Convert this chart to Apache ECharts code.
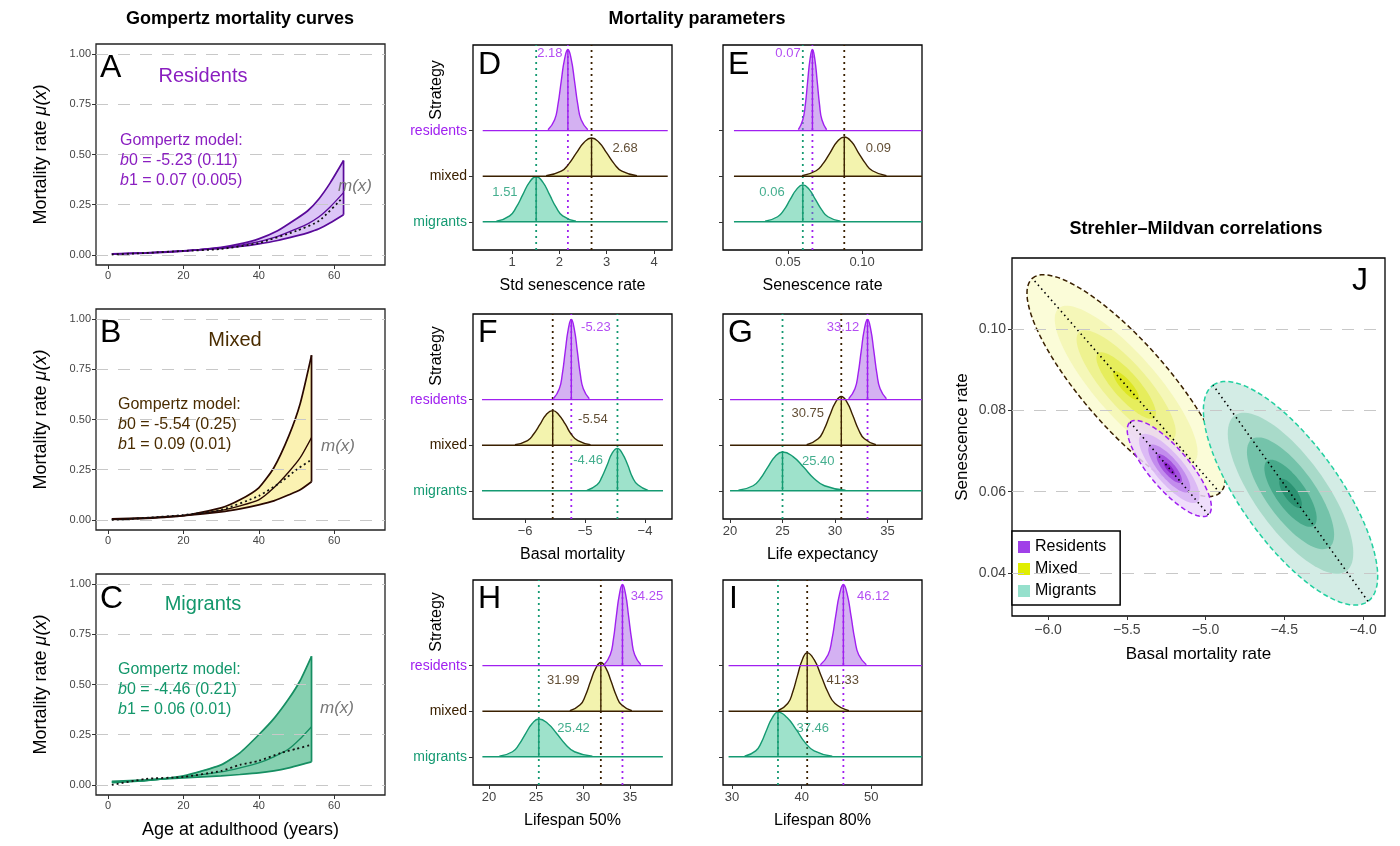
<!DOCTYPE html>
<html>
<head>
<meta charset="utf-8">
<script src="https://cdn.jsdelivr.net/npm/echarts@6/dist/echarts.min.js"></script>
<style>
  html, body { margin: 0; padding: 0; background: #fff; }
  #main { width: 1400px; height: 846px; }
</style>
</head>
<body>
<div id="main"></div>
<script>
// ---- Gompertz curves (A-C) ----
var ageA = [1, 10, 20, 30, 35, 40, 45, 50, 53, 56, 59, 62.5];
var resUpper = [0.004, 0.009, 0.019, 0.038, 0.055, 0.08, 0.12, 0.18, 0.22, 0.28, 0.36, 0.47];
var resMean = [0.005, 0.01, 0.02, 0.036, 0.048, 0.066, 0.092, 0.13, 0.155, 0.19, 0.24, 0.31];
var resLower = [0.006, 0.011, 0.02, 0.033, 0.042, 0.055, 0.072, 0.095, 0.11, 0.13, 0.16, 0.20];
var ageAmx = [1, 10, 20, 30, 40, 50, 56, 62];
var resMx = [0.002, 0.01, 0.02, 0.03, 0.06, 0.12, 0.17, 0.28];

var ageB = [1, 10, 20, 30, 35, 40, 44, 48, 51, 54];
var mixUpper = [0.003, 0.008, 0.022, 0.06, 0.1, 0.16, 0.26, 0.42, 0.58, 0.82];
var mixMean = [0.004, 0.01, 0.022, 0.048, 0.07, 0.1, 0.16, 0.24, 0.31, 0.41];
var mixLower = [0.005, 0.011, 0.022, 0.04, 0.055, 0.075, 0.095, 0.125, 0.15, 0.19];
var ageBmx = [1, 10, 20, 30, 40, 46, 50, 54];
var mixMx = [0.0, 0.01, 0.025, 0.05, 0.12, 0.19, 0.25, 0.30];

var ageC = [1, 10, 20, 30, 35, 40, 44, 48, 51, 54];
var migUpper = [0.012, 0.022, 0.045, 0.1, 0.16, 0.25, 0.33, 0.43, 0.52, 0.64];
var migMean = [0.014, 0.022, 0.04, 0.065, 0.085, 0.11, 0.14, 0.18, 0.23, 0.29];
var migLower = [0.018, 0.025, 0.035, 0.045, 0.052, 0.06, 0.07, 0.085, 0.1, 0.115];
var ageCmx = [1, 10, 20, 30, 35, 40, 46, 50, 54];
var migMx = [0.0, 0.03, 0.04, 0.07, 0.1, 0.12, 0.16, 0.18, 0.2];

var rateTicks = [0, 0.25, 0.5, 0.75, 1];
var ageTicks = [0, 20, 40, 60];

// ---- posterior densities (D-I), [value, height] ----
var stdRes = [[1.76,.02],[1.90,.24],[1.97,.57],[2.04,1.09],[2.11,1.57],[2.18,1.78],[2.25,1.57],[2.32,1.09],[2.39,.57],[2.46,.24],[2.60,.02]];
var stdMix = [[1.72,.01],[2.04,.11],[2.20,.27],[2.36,.51],[2.52,.74],[2.68,.84],[2.84,.74],[3.00,.51],[3.16,.27],[3.32,.11],[3.64,.01]];
var stdMig = [[.67,.01],[.95,.13],[1.09,.32],[1.23,.60],[1.37,.87],[1.51,.99],[1.65,.87],[1.79,.60],[1.93,.32],[2.07,.13],[2.35,.01]];
var senRes = [[.057,.02],[.060,.24],[.0617,.57],[.0633,1.09],[.0649,1.57],[.0665,1.78],[.0681,1.57],[.0697,1.09],[.0713,.57],[.0729,.24],[.0761,.02]];
var senMix = [[.0595,.01],[.069,.12],[.0738,.28],[.0785,.52],[.0833,.76],[.088,.86],[.0928,.76],[.0975,.52],[.1023,.28],[.107,.12],[.1165,.01]];
var senMig = [[.0345,.01],[.043,.11],[.0473,.26],[.0515,.49],[.0558,.71],[.060,.81],[.0643,.71],[.0685,.49],[.0728,.26],[.077,.11],[.0855,.01]];
var basRes = [[-5.53,.02],[-5.43,.24],[-5.38,.56],[-5.33,1.07],[-5.28,1.55],[-5.23,1.76],[-5.18,1.55],[-5.13,1.07],[-5.08,.56],[-5.03,.24],[-4.93,.02]];
var basMix = [[-6.17,.01],[-5.96,.10],[-5.86,.24],[-5.75,.46],[-5.65,.67],[-5.54,.76],[-5.44,.67],[-5.33,.46],[-5.23,.24],[-5.12,.10],[-4.91,.01]];
var basMig = [[-4.97,.01],[-4.80,.13],[-4.72,.30],[-4.63,.57],[-4.55,.82],[-4.46,.93],[-4.38,.82],[-4.29,.57],[-4.21,.30],[-4.12,.13],[-3.95,.01]];
var lifRes = [[31.3,.02],[31.9,.24],[32.2,.56],[32.5,1.07],[32.8,1.55],[33.1,1.76],[33.4,1.55],[33.7,1.07],[34.0,.56],[34.3,.24],[34.9,.02]];
var lifMix = [[27.3,.01],[28.4,.14],[28.95,.34],[29.5,.65],[30.05,.94],[30.6,1.07],[31.15,.94],[31.7,.65],[32.25,.34],[32.8,.14],[33.9,.01]];
var lifMig = [[20.8,.01],[22.2,.11],[22.9,.27],[23.6,.52],[24.3,.75],[25.0,.85],[26.0,.75],[27.0,.52],[28.0,.27],[29.0,.11],[31.0,.01]];
var l50Res = [[32.25,.02],[32.9,.24],[33.23,.57],[33.55,1.09],[33.88,1.57],[34.2,1.78],[34.53,1.57],[34.85,1.09],[35.18,.57],[35.5,.24],[36.15,.02]];
var l50Mix = [[28.6,.01],[29.7,.14],[30.25,.34],[30.8,.65],[31.35,.94],[31.9,1.07],[32.45,.94],[33.0,.65],[33.55,.34],[34.1,.14],[35.2,.01]];
var l50Mig = [[21.1,.01],[22.5,.11],[23.2,.27],[23.9,.51],[24.6,.73],[25.3,.83],[26.25,.73],[27.2,.51],[28.15,.27],[29.1,.11],[31.0,.01]];
var l80Res = [[42.7,.02],[43.8,.24],[44.35,.57],[44.9,1.09],[45.45,1.57],[46.0,1.78],[46.55,1.57],[47.1,1.09],[47.65,.57],[48.2,.24],[49.3,.02]];
var l80Mix = [[36.6,.01],[38.0,.17],[38.7,.41],[39.4,.78],[40.1,1.13],[40.8,1.28],[41.8,1.13],[42.8,.78],[43.8,.41],[44.8,.17],[46.8,.01]];
var l80Mig = [[31.8,.01],[33.4,.13],[34.2,.31],[35.0,.60],[35.8,.86],[36.6,.98],[37.9,.86],[39.2,.60],[40.5,.31],[41.8,.13],[44.4,.01]];

// value labels [x, y, text]
var stdLabels = [[1.80, 3.69, '2.18'], [3.39, 1.6, '2.68'], [0.85, 0.64, '1.51']];
var senLabels = [[0.05, 3.69, '0.07'], [0.111, 1.6, '0.09'], [0.0392, 0.64, '0.06']];
var basLabels = [[-4.82, 3.59, '-5.23'], [-4.87, 1.57, '-5.54'], [-4.95, 0.67, '-4.46']];
var lifLabels = [[30.76, 3.59, '33.12'], [27.4, 1.7, '30.75'], [28.4, 0.65, '25.40']];
var l50Labels = [[36.8, 3.52, '34.25'], [27.9, 1.67, '31.99'], [29.0, 0.63, '25.42']];
var l80Labels = [[50.3, 3.52, '46.12'], [45.9, 1.67, '41.33'], [41.6, 0.63, '37.46']];

var strategies = ['migrants', 'mixed', 'residents'];

// ---- Strehler-Mildvan ellipses (J) ----
var ellMixed = { center: [-5.504, 0.0861], end: [-6.10, 0.1125], ratio: 0.3 };
var ellMigrants = { center: [-4.46, 0.0596], end: [-4.952, 0.0862], ratio: 0.37 };
var ellResidents = { center: [-5.23, 0.0657], end: [-5.479, 0.0771], ratio: 0.33 };
var levelScales = [1, 0.72, 0.5, 0.3, 0.13];
var basalTicks = [-6, -5.5, -5, -4.5, -4];
var senTicksJ = [0.04, 0.06, 0.08, 0.10];

var C = {
  res: '#a020f0', resFill: 'rgba(170,100,230,0.5)',
  mix: '#3a2000', mixFill: 'rgba(238,238,140,0.7)',
  mig: '#159a72', migFill: 'rgba(40,190,140,0.45)'
};
var FONT = 'Liberation Sans, Arial, sans-serif';

var chart = echarts.init(document.getElementById('main'));
var grids = [], xAxes = [], yAxes = [], series = [];

function addGrid(g, x, y) {
  grids.push(Object.assign({ show: true, borderColor: '#000', borderWidth: 1.3, containLabel: false }, g));
  var gi = grids.length - 1;
  xAxes.push(Object.assign({ gridIndex: gi, type: 'value', axisLine: { show: false, onZero: false }, splitLine: { show: false } }, x));
  yAxes.push(Object.assign({ gridIndex: gi, type: 'value', axisLine: { show: false, onZero: false }, splitLine: { show: false } }, y));
  return gi;
}

function gridLines(gi, vals) {
  series.push({
    type: 'line', xAxisIndex: gi, yAxisIndex: gi, data: [], silent: true, z: 1,
    markLine: {
      silent: true, symbol: 'none', label: { show: false }, animation: false,
      lineStyle: { color: '#c8c8c8', type: [12, 10], width: 1.2 },
      data: vals.map(function (v) { return { yAxis: v }; })
    }
  });
}

function zip(xs, ys) { return xs.map(function (x, i) { return [x, ys[i]]; }); }

// ---- left column ----
var leftPanels = [
  { top: 44, ages: ageA, up: resUpper, mean: resMean, lo: resLower, mxAge: ageAmx, mx: resMx, line: '#5a0a9a', fill: '#dcc6f7', xname: '' },
  { top: 309, ages: ageB, up: mixUpper, mean: mixMean, lo: mixLower, mxAge: ageBmx, mx: mixMx, line: '#2a0800', fill: '#fbf2b2', xname: '' },
  { top: 574, ages: ageC, up: migUpper, mean: migMean, lo: migLower, mxAge: ageCmx, mx: migMx, line: '#168e62', fill: '#86d0b0', xname: 'Age at adulthood (years)' }
];
leftPanels.forEach(function (p) {
  var gi = addGrid({ left: 96, top: p.top, width: 289, height: 221, borderColor: '#222' },
    { min: -3.2, max: 73.5, name: p.xname, nameLocation: 'middle', nameGap: 26,
      nameTextStyle: { fontSize: 18, color: '#000', fontFamily: FONT },
      axisTick: { customValues: ageTicks, length: 4, lineStyle: { color: '#333' } },
      axisLabel: { customValues: ageTicks, fontSize: 11, color: '#444', margin: 5, fontFamily: FONT } },
    { min: -0.05, max: 1.05, name: '{a|Mortality rate }{i|μ(x)}', nameLocation: 'middle', nameGap: 46,
      nameTextStyle: { fontSize: 17, color: '#000', fontFamily: FONT,
        rich: { a: { fontSize: 18, fontFamily: FONT }, i: { fontSize: 18, fontStyle: 'italic', fontFamily: FONT } } },
      axisTick: { customValues: rateTicks, length: 4, lineStyle: { color: '#333' } },
      axisLabel: { customValues: rateTicks, fontSize: 11, color: '#444', margin: 5, fontFamily: FONT,
        formatter: function (v) { return v.toFixed(2); } } });
  gridLines(gi, rateTicks);
  var n = p.ages.length - 1;
  // fill between bounds
  series.push({
    type: 'custom', xAxisIndex: gi, yAxisIndex: gi, data: [[0, 0]], z: 3, silent: true,
    renderItem: function (params, api) {
      var pts = [];
      for (var i = 0; i <= n; i++) pts.push(api.coord([p.ages[i], p.up[i]]));
      for (var j = n; j >= 0; j--) pts.push(api.coord([p.ages[j], p.lo[j]]));
      return { type: 'polygon', shape: { points: pts }, style: { fill: p.fill } };
    }
  });
  [p.up, p.lo, p.mean].forEach(function (ys, k) {
    series.push({ type: 'line', xAxisIndex: gi, yAxisIndex: gi, data: zip(p.ages, ys), smooth: 0.2,
      symbol: 'none', lineStyle: { color: p.line, width: k < 2 ? 1.7 : 1.3 }, z: 4, silent: true });
  });
  series.push({ type: 'line', xAxisIndex: gi, yAxisIndex: gi, data: [[p.ages[n], p.lo[n]], [p.ages[n], p.up[n]]],
    symbol: 'none', lineStyle: { color: p.line, width: 1.7 }, z: 4, silent: true });
  series.push({ type: 'line', xAxisIndex: gi, yAxisIndex: gi, data: zip(p.mxAge, p.mx), smooth: 0.2,
    symbol: 'none', lineStyle: { color: '#111', width: 1.8, type: [2, 3] }, z: 5, silent: true });
});

// ---- middle column ----
var midPanels = [
  { left: 473, top: 45, min: 0.175, max: 4.38, base: [0.38, 4.29], ticks: [1, 2, 3, 4], dec: 0, name: 'Std senescence rate', d: [stdMig, stdMix, stdRes], lab: stdLabels, names: true },
  { left: 723, top: 45, min: 0.0061, max: 0.1405, base: [0.0135, 0.1405], ticks: [0.05, 0.10], dec: 2, name: 'Senescence rate', d: [senMig, senMix, senRes], lab: senLabels, names: false },
  { left: 473, top: 314, min: -6.87, max: -3.55, base: [-6.72, -3.7], ticks: [-6, -5, -4], dec: 0, name: 'Basal mortality', d: [basMig, basMix, basRes], lab: basLabels, names: true },
  { left: 723, top: 314, min: 19.33, max: 38.29, base: [20, 38.29], ticks: [20, 25, 30, 35], dec: 0, name: 'Life expectancy', d: [lifMig, lifMix, lifRes], lab: lifLabels, names: false },
  { left: 473, top: 580, min: 18.3, max: 39.47, base: [19.3, 38.5], ticks: [20, 25, 30, 35], dec: 0, name: 'Lifespan 50%', d: [l50Mig, l50Mix, l50Res], lab: l50Labels, names: true },
  { left: 723, top: 580, min: 28.7, max: 57.3, base: [29.5, 57.3], ticks: [30, 40, 50], dec: 0, name: 'Lifespan 80%', d: [l80Mig, l80Mix, l80Res], lab: l80Labels, names: false }
];
var groupLine = [C.mig, C.mix, C.res];
var groupFill = [C.migFill, C.mixFill, C.resFill];
var labelColor = ['#159a72', '#3a2000', '#a020f0'];

midPanels.forEach(function (p) {
  var gi = addGrid({ left: p.left, top: p.top, width: 199, height: 205 },
    { min: p.min, max: p.max, name: p.name, nameLocation: 'middle', nameGap: 28,
      nameTextStyle: { fontSize: 16, color: '#000', fontFamily: FONT },
      axisTick: { customValues: p.ticks, length: 4, lineStyle: { color: '#333' } },
      axisLabel: { customValues: p.ticks, fontSize: 13, color: '#444', margin: 6, fontFamily: FONT,
        formatter: function (v) { return v.toFixed(p.dec).replace('-', '−'); } } },
    { min: -0.62, max: 3.88,
      axisTick: { customValues: [0, 1, 2], length: 4, lineStyle: { color: '#333' } },
      axisLabel: { show: p.names, customValues: [0, 1, 2], fontSize: 14, margin: 6, fontFamily: FONT,
        formatter: function (v) { return strategies[v]; },
        color: function (v) { return labelColor[v]; } } });
  // dotted mean lines across the panel
  p.d.forEach(function (dens, row) {
    var m = dens[5][0];
    series.push({ type: 'line', xAxisIndex: gi, yAxisIndex: gi, data: [[m, -0.62], [m, 3.88]], symbol: 'none',
      lineStyle: { color: groupLine[row], width: 1.8, type: [2, 4] }, z: 2, silent: true });
  });
  p.d.forEach(function (dens, row) {
    series.push({ type: 'line', xAxisIndex: gi, yAxisIndex: gi, data: [[p.base[0], row], [p.base[1], row]], symbol: 'none',
      lineStyle: { color: groupLine[row], width: 1.4 }, z: 3 + row, silent: true });
    series.push({ type: 'line', xAxisIndex: gi, yAxisIndex: gi,
      data: dens.map(function (q) { return [q[0], q[1] + row]; }), symbol: 'none', smooth: 0.5,
      lineStyle: { color: groupLine[row], width: 1.4 },
      areaStyle: { color: groupFill[row], origin: row, opacity: 1 }, z: 3 + row, silent: true });
    var m = dens[5];
    series.push({ type: 'line', xAxisIndex: gi, yAxisIndex: gi, data: [[m[0], row], [m[0], row + m[1]]], symbol: 'none',
      lineStyle: { color: groupLine[row], width: 1.4 }, z: 3 + row, silent: true });
  });
  series.push({ type: 'scatter', xAxisIndex: gi, yAxisIndex: gi, symbolSize: 0, z: 10, silent: true,
    data: p.lab.map(function (l, i) {
      return { value: [l[0], l[1]], label: { formatter: l[2], color: labelColor[2 - i] } };
    }),
    label: { show: true, position: 'inside', fontSize: 13, fontFamily: FONT } });
});

// ---- right column: ellipses ----
var gj = addGrid({ left: 1012, top: 258, width: 373, height: 358 },
  { min: -6.229, max: -3.86, name: 'Basal mortality rate', nameLocation: 'middle', nameGap: 30,
    nameTextStyle: { fontSize: 17, color: '#000', fontFamily: FONT },
    axisTick: { customValues: basalTicks, length: 4, lineStyle: { color: '#333' } },
    axisLabel: { customValues: basalTicks, fontSize: 14, color: '#444', margin: 7, fontFamily: FONT,
      formatter: function (v) { return v.toFixed(1).replace('-', '−'); } } },
  { min: 0.0294, max: 0.1175, name: 'Senescence rate', nameLocation: 'middle', nameGap: 41,
    nameTextStyle: { fontSize: 17, color: '#000', fontFamily: FONT },
    axisTick: { customValues: senTicksJ, length: 4, lineStyle: { color: '#333' } },
    axisLabel: { customValues: senTicksJ, fontSize: 14, color: '#444', margin: 6, fontFamily: FONT,
      formatter: function (v) { return v.toFixed(2); } } });
gridLines(gj, senTicksJ);

function ellipseSeries(name, ell, colors, border, legendColor, z) {
  return {
    type: 'custom', name: name, xAxisIndex: gj, yAxisIndex: gj, z: z, silent: true,
    itemStyle: { color: legendColor },
    data: levelScales.map(function (s, i) { return [ell.center[0], ell.center[1], i]; }).concat([[ell.center[0], ell.center[1], -1]]),
    renderItem: function (params, api) {
      var c = api.coord(ell.center), e = api.coord(ell.end);
      var lvl = api.value(2);
      var s = lvl < 0 ? 1 : levelScales[lvl];
      var ux = (e[0] - c[0]) * s, uy = (e[1] - c[1]) * s;
      var vx = -uy * ell.ratio, vy = ux * ell.ratio;
      var pts = [];
      for (var i = 0; i < 90; i++) {
        var t = i / 90 * Math.PI * 2;
        pts.push([c[0] + ux * Math.cos(t) + vx * Math.sin(t), c[1] + uy * Math.cos(t) + vy * Math.sin(t)]);
      }
      if (lvl >= 0) {
        return { type: 'polygon', shape: { points: pts }, style: { fill: colors[lvl] } };
      }
      return { type: 'group', children: [
        { type: 'polygon', shape: { points: pts }, style: { fill: 'none', stroke: border, lineWidth: 1.5, lineDash: [5, 3] } },
        { type: 'line', shape: { x1: c[0] - ux, y1: c[1] - uy, x2: c[0] + ux, y2: c[1] + uy },
          style: { stroke: '#000', lineWidth: 1.6, lineDash: [1.5, 3.5] } }
      ] };
    }
  };
}
series.push(ellipseSeries('Mixed', ellMixed, ['#fbfcd8', '#f5f7b8', '#eef290', '#e6ed5c', '#dde622'], '#3a2000', '#e0ee00', 3));
series.push(ellipseSeries('Migrants', ellMigrants, ['#d3ece5', '#a8dac9', '#74c3aa', '#48aa8b', '#2b9272'], '#22d0a0', '#95e0cc', 3));
series.push(ellipseSeries('Residents', ellResidents, ['rgba(236,216,250,0.85)', 'rgba(216,180,245,0.85)', '#c28ced', '#a452de', '#8a22c8'], '#a020f0', '#a040e8', 4));

var txt = function (x, y, text, size, color, extra) {
  return { type: 'text', x: x, y: y, z: 100,
    style: Object.assign({ text: text, fill: color || '#000', font: (size || 16) + 'px ' + FONT }, extra || {}) };
};
function gomp(x, y, color, b0, b1) {
  var r = { rich: { i: { fontStyle: 'italic', fontSize: 16, fontFamily: FONT, fill: color } } };
  return [
    txt(x, y, 'Gompertz model:', 16, color),
    txt(x, y + 20, '{i|b}0 = ' + b0, 16, color, r),
    txt(x, y + 40, '{i|b}1 = ' + b1, 16, color, r)
  ];
}
var graphics = [
  txt(240, 10, 'Gompertz mortality curves', 18, '#000', { font: 'bold 18px ' + FONT, textAlign: 'center' }),
  txt(697, 10, 'Mortality parameters', 18, '#000', { font: 'bold 18px ' + FONT, textAlign: 'center' }),
  txt(1196, 220, 'Strehler–Mildvan correlations', 18, '#000', { font: 'bold 18px ' + FONT, textAlign: 'center' }),
  txt(100, 52, 'A', 32), txt(100, 317, 'B', 32), txt(100, 583, 'C', 32),
  txt(203, 66, 'Residents', 20, '#8a1ec0', { textAlign: 'center' }),
  txt(235, 330, 'Mixed', 20, '#4a2c00', { textAlign: 'center' }),
  txt(203, 594, 'Migrants', 20, '#13976b', { textAlign: 'center' }),
  txt(338, 178, 'm(x)', 16, '#777', { font: 'italic 17px ' + FONT }),
  txt(321, 438, 'm(x)', 16, '#777', { font: 'italic 17px ' + FONT }),
  txt(320, 700, 'm(x)', 16, '#777', { font: 'italic 17px ' + FONT }),
  txt(478, 49, 'D', 32), txt(728, 49, 'E', 32), txt(478, 317, 'F', 32),
  txt(728, 317, 'G', 32), txt(478, 583, 'H', 32), txt(729, 583, 'I', 32),
  txt(1352, 265, 'J', 32)
].concat(gomp(120, 133, '#8a1ec0', '-5.23 (0.11)', '0.07 (0.005)'),
  gomp(118, 397, '#4a2c00', '-5.54 (0.25)', '0.09 (0.01)'),
  gomp(118, 662, '#13976b', '-4.46 (0.21)', '0.06 (0.01)'));
[90, 356, 622].forEach(function (y) {
  graphics.push({ type: 'text', x: 437, y: y, rotation: Math.PI / 2, z: 100,
    style: { text: 'Strategy', font: '16px ' + FONT, fill: '#000', textAlign: 'center', textVerticalAlign: 'middle' } });
});

chart.setOption({
  animation: false,
  textStyle: { fontFamily: FONT },
  grid: grids, xAxis: xAxes, yAxis: yAxes, series: series,
  legend: {
    left: 1012, top: 531, orient: 'vertical', selectedMode: false,
    backgroundColor: '#fff', borderColor: '#000', borderWidth: 1.5, borderRadius: 0,
    padding: [8, 14, 6, 6], itemGap: 6, itemWidth: 12, itemHeight: 12,
    textStyle: { fontSize: 16, color: '#000', fontFamily: FONT },
    data: [
      { name: 'Residents', icon: 'rect', itemStyle: { color: '#a040e8' } },
      { name: 'Mixed', icon: 'rect', itemStyle: { color: '#e0ee00' } },
      { name: 'Migrants', icon: 'rect', itemStyle: { color: '#95e0cc' } }
    ]
  },
  graphic: graphics
});
</script>
</body>
</html>
